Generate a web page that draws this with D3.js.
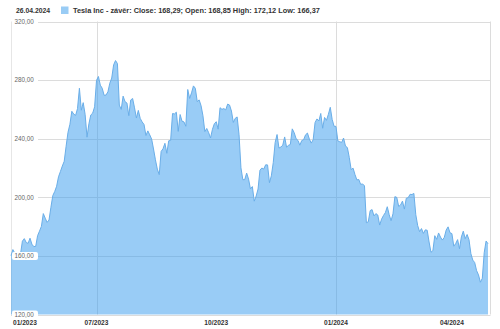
<!DOCTYPE html>
<html>
<head>
<meta charset="utf-8">
<script src="https://cdn.jsdelivr.net/npm/d3@7.9.0/dist/d3.min.js"></script>
<style>
  body { margin: 0; background: #fff; }
  svg { display: block; font-family: "Liberation Sans", Arial, sans-serif; }
</style>
</head>
<body>
<svg id="chart" width="500" height="329"></svg>
<script>
// trading days shown (one year of daily closes)
const dates = [
  "2023-04-27","2023-04-28",
  "2023-05-01","2023-05-02","2023-05-03","2023-05-04","2023-05-05","2023-05-08","2023-05-09","2023-05-10","2023-05-11","2023-05-12",
  "2023-05-15","2023-05-16","2023-05-17","2023-05-18","2023-05-19","2023-05-22","2023-05-23","2023-05-24","2023-05-25","2023-05-26","2023-05-30","2023-05-31",
  "2023-06-01","2023-06-02","2023-06-05","2023-06-06","2023-06-07","2023-06-08","2023-06-09","2023-06-12","2023-06-13","2023-06-14","2023-06-15","2023-06-16",
  "2023-06-20","2023-06-21","2023-06-22","2023-06-23","2023-06-26","2023-06-27","2023-06-28","2023-06-29","2023-06-30",
  "2023-07-03","2023-07-05","2023-07-06","2023-07-07","2023-07-10","2023-07-11","2023-07-12","2023-07-13","2023-07-14","2023-07-17","2023-07-18","2023-07-19",
  "2023-07-20","2023-07-21","2023-07-24","2023-07-25","2023-07-26","2023-07-27","2023-07-28","2023-07-31",
  "2023-08-01","2023-08-02","2023-08-03","2023-08-04","2023-08-07","2023-08-08","2023-08-09","2023-08-10","2023-08-11","2023-08-14","2023-08-15","2023-08-16",
  "2023-08-17","2023-08-18","2023-08-21","2023-08-22","2023-08-23","2023-08-24","2023-08-25","2023-08-28","2023-08-29","2023-08-30","2023-08-31",
  "2023-09-01","2023-09-05","2023-09-06","2023-09-07","2023-09-08","2023-09-11","2023-09-12","2023-09-13","2023-09-14","2023-09-15","2023-09-18","2023-09-19",
  "2023-09-20","2023-09-21","2023-09-22","2023-09-25","2023-09-26","2023-09-27","2023-09-28","2023-09-29",
  "2023-10-02","2023-10-03","2023-10-04","2023-10-05","2023-10-06","2023-10-09","2023-10-10","2023-10-11","2023-10-12","2023-10-13","2023-10-16","2023-10-17",
  "2023-10-18","2023-10-19","2023-10-20","2023-10-23","2023-10-24","2023-10-25","2023-10-26","2023-10-27","2023-10-30","2023-10-31",
  "2023-11-01","2023-11-02","2023-11-03","2023-11-06","2023-11-07","2023-11-08","2023-11-09","2023-11-10","2023-11-13","2023-11-14","2023-11-15","2023-11-16",
  "2023-11-17","2023-11-20","2023-11-21","2023-11-22","2023-11-24","2023-11-27","2023-11-28","2023-11-29","2023-11-30",
  "2023-12-01","2023-12-04","2023-12-05","2023-12-06","2023-12-07","2023-12-08","2023-12-11","2023-12-12","2023-12-13","2023-12-14","2023-12-15","2023-12-18",
  "2023-12-19","2023-12-20","2023-12-21","2023-12-22","2023-12-26","2023-12-27","2023-12-28","2023-12-29",
  "2024-01-02","2024-01-03","2024-01-04","2024-01-05","2024-01-08","2024-01-09","2024-01-10","2024-01-11","2024-01-12","2024-01-16","2024-01-17","2024-01-18",
  "2024-01-19","2024-01-22","2024-01-23","2024-01-24","2024-01-25","2024-01-26","2024-01-29","2024-01-30","2024-01-31",
  "2024-02-01","2024-02-02","2024-02-05","2024-02-06","2024-02-07","2024-02-08","2024-02-09","2024-02-12","2024-02-13","2024-02-14","2024-02-15","2024-02-16",
  "2024-02-20","2024-02-21","2024-02-22","2024-02-23","2024-02-26","2024-02-27","2024-02-28","2024-02-29",
  "2024-03-01","2024-03-04","2024-03-05","2024-03-06","2024-03-07","2024-03-08","2024-03-11","2024-03-12","2024-03-13","2024-03-14","2024-03-15","2024-03-18",
  "2024-03-19","2024-03-20","2024-03-21","2024-03-22","2024-03-25","2024-03-26","2024-03-27","2024-03-28",
  "2024-04-01","2024-04-02","2024-04-03","2024-04-04","2024-04-05","2024-04-08","2024-04-09","2024-04-10","2024-04-11","2024-04-12","2024-04-15","2024-04-16",
  "2024-04-17","2024-04-18","2024-04-19","2024-04-22","2024-04-23","2024-04-24","2024-04-25","2024-04-26"
];

const closes = [
  160.19,164.31,
  161.83,160.31,160.61,161.20,170.06,171.79,169.15,168.54,172.08,167.98,
  166.35,166.52,173.86,176.89,180.14,188.87,185.77,182.90,184.47,193.17,201.16,203.93,
  207.52,213.97,217.61,221.31,224.57,234.86,244.40,249.83,258.71,256.79,255.90,260.54,
  274.45,259.46,264.61,256.60,241.05,250.21,256.24,257.50,261.77,
  279.82,282.48,276.54,274.43,269.61,269.79,271.99,277.90,281.38,290.38,293.34,291.26,
  262.90,260.02,269.06,265.28,264.35,255.71,266.44,267.43,
  261.07,254.11,259.32,253.86,251.45,249.70,242.19,245.34,242.65,239.76,232.96,225.60,
  219.22,215.49,231.28,233.19,236.86,230.04,238.59,238.82,257.18,256.90,258.08,
  245.01,256.49,251.92,251.49,248.50,273.58,267.48,271.30,276.04,274.39,265.28,266.50,
  262.59,255.70,244.88,246.99,244.12,240.50,246.38,250.22,
  251.60,246.53,261.16,260.05,260.53,259.67,263.62,262.99,258.87,251.12,253.92,254.85,
  242.68,220.11,211.99,212.08,216.52,212.42,205.76,207.30,197.36,200.84,
  205.66,218.51,219.96,219.27,222.18,222.11,209.98,214.65,223.71,237.41,242.84,233.59,
  234.30,235.60,241.20,234.21,235.45,236.08,246.72,244.14,240.08,
  238.83,235.58,238.72,239.37,242.64,243.84,239.74,237.01,239.29,251.05,253.50,252.08,
  257.22,247.14,254.50,252.54,256.61,261.44,253.18,248.48,
  248.42,238.45,237.93,237.49,240.45,234.96,233.94,227.22,218.89,219.91,215.55,211.88,
  212.19,208.80,209.14,207.83,182.63,183.25,190.93,191.59,187.29,
  188.86,187.91,181.06,185.10,187.58,189.56,193.57,188.13,184.02,188.71,200.45,199.95,
  193.76,194.77,197.41,191.97,199.40,199.73,202.04,201.88,
  202.64,188.14,180.74,176.54,178.65,175.34,177.77,177.54,169.48,162.50,163.57,173.80,
  171.32,175.66,172.82,170.83,172.63,177.67,179.83,175.79,
  175.22,166.63,168.38,171.11,164.90,172.98,176.88,171.76,174.60,171.05,161.48,157.11,
  155.45,149.93,147.05,142.05,144.68,162.13,170.18,168.29
];

const yTicks = [120, 160, 200, 240, 280, 320];
const xTickDates = ["2023-04-27", "2023-07-03", "2023-10-02", "2024-01-02", "2024-04-01"];
const xTickLabels = ["01/2023", "07/2023", "10/2023", "01/2024", "04/2024"];
const xGridDates = ["2023-07-03", "2024-01-02"];
const headerDate = "26.04.2024";
const legendLabel = "Tesla Inc - závěr: Close: 168,29; Open: 168,85 High: 172,12 Low: 166,37";

const svg = d3.select("#chart");
const plotLeft = 11, plotRight = 490.5, plotTop = 21.5, plotBottom = 314.5;

const x = d3.scalePoint().domain(dates).range([plotLeft, 488]);
const y = d3.scaleLinear().domain([120, 320]).range([plotBottom, plotTop]);
const fmt = v => d3.format(".2f")(v).replace(".", ",");

// grid
svg.append("g").selectAll("line").data(yTicks).enter().append("line")
  .attr("x1", plotLeft).attr("x2", plotRight)
  .attr("y1", d => Math.round(y(d)) + 0.5).attr("y2", d => Math.round(y(d)) + 0.5)
  .attr("stroke", "#dcdcdc");
svg.append("g").selectAll("line").data(xGridDates).enter().append("line")
  .attr("x1", d => Math.round(x(d)) + 0.5).attr("x2", d => Math.round(x(d)) + 0.5)
  .attr("y1", plotTop).attr("y2", plotBottom)
  .attr("stroke", "#dcdcdc");
svg.append("line").attr("x1", plotRight).attr("x2", plotRight).attr("y1", plotTop).attr("y2", plotBottom).attr("stroke", "#dcdcdc");
svg.append("line").attr("x1", plotLeft + 0.5).attr("x2", plotLeft + 0.5).attr("y1", plotTop).attr("y2", plotBottom).attr("stroke", "#e6e6e6");

// area + line
const area = d3.area().x((d, i) => x(dates[i])).y0(y(120)).y1(d => y(d));
const line = d3.line().x((d, i) => x(dates[i])).y(d => y(d));
svg.append("path").datum(closes).attr("d", area).attr("fill", "#3399ee").attr("fill-opacity", 0.5);
svg.append("path").datum(closes).attr("d", line).attr("fill", "none").attr("stroke", "#6aaee8").attr("stroke-width", 1);

// y labels with white boxes
const yl = svg.append("g").selectAll("g").data(yTicks).enter().append("g")
  .attr("transform", d => `translate(0,${y(d)})`);
yl.append("rect").attr("x", plotLeft + 1).attr("y", -4).attr("width", 26).attr("height", 8).attr("rx", 2)
  .attr("fill", "#fff");
yl.append("text").attr("x", 14.5).attr("dy", "0.35em").attr("font-size", 6.3).attr("fill", "#666")
  .text(d => fmt(d));

// x labels
svg.append("g").selectAll("text").data(xTickDates).enter().append("text")
  .attr("x", (d, i) => i === 0 ? 13 : x(d))
  .attr("y", 325)
  .attr("text-anchor", (d, i) => i === 0 ? "start" : "middle")
  .attr("font-size", 6.6).attr("font-weight", "bold").attr("fill", "#333")
  .text((d, i) => xTickLabels[i]);

// header
svg.append("text").attr("x", 16).attr("y", 13).attr("font-size", 6.8).attr("font-weight", "bold")
  .attr("fill", "#333").text(headerDate);
svg.append("rect").attr("x", 61).attr("y", 6.5).attr("width", 7.5).attr("height", 7.5).attr("fill", "#99ccf5");
svg.append("text").attr("x", 73).attr("y", 13).attr("font-size", 7.35).attr("font-weight", "bold")
  .attr("fill", "#333").text(legendLabel);
</script>
</body>
</html>
